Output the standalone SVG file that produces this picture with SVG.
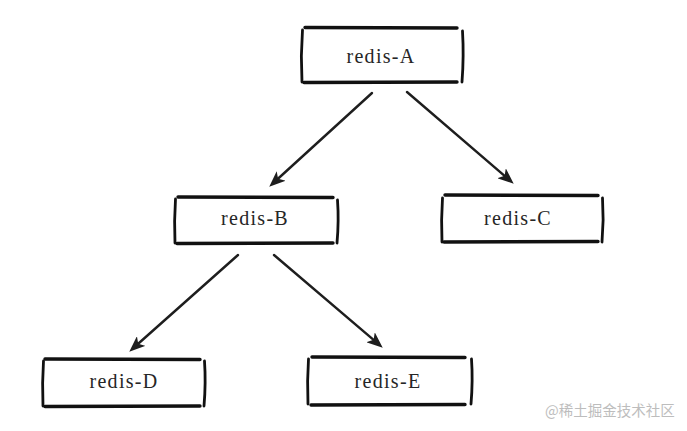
<svg xmlns="http://www.w3.org/2000/svg" width="687" height="431" viewBox="0 0 687 431">
<style>
.edge{fill:none;stroke:#1e1e1e;stroke-width:2.4;stroke-linecap:round}
.h{fill:none;stroke:#111;stroke-width:3.4;stroke-linecap:round}
.v{fill:none;stroke:#111;stroke-width:2.8;stroke-linecap:round}
.lbl{font-family:'Liberation Serif','Times New Roman','DejaVu Serif',serif;font-size:20px;letter-spacing:1.3px;fill:#262626;text-anchor:middle}
.wm{font-family:'Noto Sans CJK SC','Noto Sans',sans-serif;font-size:14.5px;fill:#bdbdbd}
</style>
<defs>
<marker id="arr" viewBox="0 0 16 13" refX="9" refY="6.5" markerWidth="16" markerHeight="13" markerUnits="userSpaceOnUse" orient="auto">
<path d="M0,0 L16,6.5 L0,13 L4,6.5 Z" fill="#1e1e1e"/>
</marker>
</defs>
<rect width="687" height="431" fill="#fff"/>
<g id="connectors">
<line class="edge" x1="372" y1="93" x2="274.4" y2="182" marker-end="url(#arr)"/>
<line class="edge" x1="407" y1="92" x2="508.4" y2="179.1" marker-end="url(#arr)"/>
<line class="edge" x1="238" y1="255" x2="134.5" y2="347" marker-end="url(#arr)"/>
<line class="edge" x1="274" y1="255" x2="377.4" y2="343.1" marker-end="url(#arr)"/>
</g>
<g id="node-A">
<path class="h" d="M305,27.5 L457,28"/>
<path class="h" d="M304,82.5 L457,82"/>
<path class="v" d="M302.5,30 Q300.5,56 302,82"/>
<path class="v" d="M462.5,31 Q464,56 462,82"/>
<text class="lbl" x="381" y="63">redis-A</text>
</g>
<g id="node-B">
<path class="h" d="M178,197 L333,197.5"/>
<path class="h" d="M177,243.5 L333,243"/>
<path class="v" d="M175.5,199 Q174,221 175,243"/>
<path class="v" d="M337.5,200 Q339,221 337,243"/>
<text class="lbl" x="255" y="225">redis-B</text>
</g>
<g id="node-C">
<path class="h" d="M445,195 L598,195.5"/>
<path class="h" d="M444,242 L598,241.5"/>
<path class="v" d="M442.5,198 Q441,220 442,242"/>
<path class="v" d="M602.5,198 Q604,220 602,242"/>
<text class="lbl" x="518" y="225">redis-C</text>
</g>
<g id="node-D">
<path class="h" d="M45,359 L200,359.5"/>
<path class="h" d="M45,406.5 L200,406"/>
<path class="v" d="M43.5,361 Q42,383 43,406"/>
<path class="v" d="M204.5,361 Q206,383 204,406"/>
<text class="lbl" x="124" y="388">redis-D</text>
</g>
<g id="node-E">
<path class="h" d="M312,357 L465,357.5"/>
<path class="h" d="M311,405 L465,404.5"/>
<path class="v" d="M308.5,359 Q307,381 308,404"/>
<path class="v" d="M471.5,359 Q473,381 471,404"/>
<text class="lbl" x="388" y="388">redis-E</text>
</g>
<text class="wm" x="545" y="416">@稀土掘金技术社区</text>
</svg>
